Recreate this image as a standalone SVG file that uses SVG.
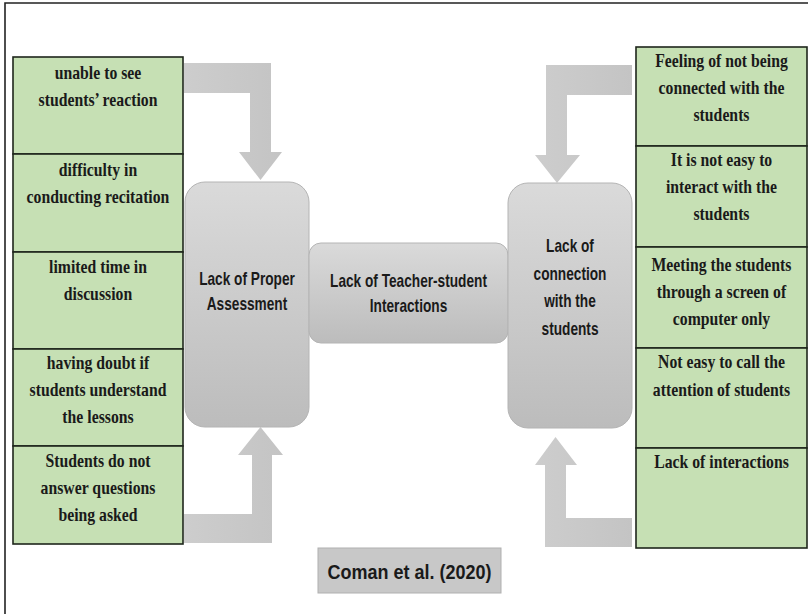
<svg xmlns="http://www.w3.org/2000/svg" width="808" height="614" viewBox="0 0 808 614">
  <defs>
    <linearGradient id="boxGrad" x1="0" y1="0" x2="0" y2="1">
      <stop offset="0" stop-color="#dadada"/>
      <stop offset="1" stop-color="#bcbcbc"/>
    </linearGradient>
    <linearGradient id="arrowGrad" x1="0" y1="0" x2="1" y2="0">
      <stop offset="0" stop-color="#cdcdcd"/>
      <stop offset="1" stop-color="#c4c4c4"/>
    </linearGradient>
  </defs>
  <style>
    .cell { fill: #c6e0b4; stroke: #1e261c; stroke-width: 1.6; }
    .ctxt { font-family: "Liberation Serif", "Times New Roman", serif; font-weight: bold; font-size: 19px; fill: #1a1a1a; text-anchor: middle; }
    .box { fill: url(#boxGrad); stroke: #b4b4b4; stroke-width: 1; }
    .btxt { font-family: "Liberation Sans", Arial, sans-serif; font-weight: bold; font-size: 18px; fill: #1a1a1a; text-anchor: middle; }
    .arrow { fill: url(#arrowGrad); stroke: none; }
    .frame { stroke: #222; stroke-width: 1.6; fill: none; }
  </style>

  <rect width="808" height="614" fill="#ffffff"/>
  <path class="frame" d="M5 614 V3 H808"/>

  <!-- connectors: bent block arrows into the side boxes -->
  <g id="connectors">
    <polygon class="arrow" points="184,63 271,63 271,152 282,152 260.5,180 239,152 250,152 250,93 184,93"/>
    <polygon class="arrow" points="184,543 272,543 272,455 283,455 260.5,427 238,455 252,455 252,514 184,514"/>
    <polygon class="arrow" points="632,65 546,65 546,155 535,155 557,183 580,155 567,155 567,95 632,95"/>
    <polygon class="arrow" points="632,547 545,547 545,465 535,465 555.5,437 577,465 566,465 566,518 632,518"/>
  </g>

  <!-- left column of issues -->
  <g id="left-1">
    <rect class="cell" x="13" y="57" width="170" height="97"/>
    <g transform="translate(98 0) scale(0.83 1)">
      <text class="ctxt" x="0" y="79">unable to see</text>
      <text class="ctxt" x="0" y="106">students’ reaction</text>
    </g>
  </g>
  <g id="left-2">
    <rect class="cell" x="13" y="154" width="170" height="98"/>
    <g transform="translate(98 0) scale(0.83 1)">
      <text class="ctxt" x="0" y="176">difficulty in</text>
      <text class="ctxt" x="0" y="203">conducting recitation</text>
    </g>
  </g>
  <g id="left-3">
    <rect class="cell" x="13" y="252" width="170" height="97"/>
    <g transform="translate(98 0) scale(0.83 1)">
      <text class="ctxt" x="0" y="273">limited time in</text>
      <text class="ctxt" x="0" y="300">discussion</text>
    </g>
  </g>
  <g id="left-4">
    <rect class="cell" x="13" y="349" width="170" height="97"/>
    <g transform="translate(98 0) scale(0.83 1)">
      <text class="ctxt" x="0" y="369">having doubt if</text>
      <text class="ctxt" x="0" y="396">students understand</text>
      <text class="ctxt" x="0" y="423">the lessons</text>
    </g>
  </g>
  <g id="left-5">
    <rect class="cell" x="13" y="446" width="170" height="98"/>
    <g transform="translate(98 0) scale(0.83 1)">
      <text class="ctxt" x="0" y="467">Students do not</text>
      <text class="ctxt" x="0" y="494">answer questions</text>
      <text class="ctxt" x="0" y="521">being asked</text>
    </g>
  </g>

  <!-- right column of issues -->
  <g id="right-1">
    <rect class="cell" x="636" y="47" width="171" height="99"/>
    <g transform="translate(721.5 0) scale(0.83 1)">
      <text class="ctxt" x="0" y="67">Feeling of not being</text>
      <text class="ctxt" x="0" y="94">connected with the</text>
      <text class="ctxt" x="0" y="121">students</text>
    </g>
  </g>
  <g id="right-2">
    <rect class="cell" x="636" y="146" width="171" height="101"/>
    <g transform="translate(721.5 0) scale(0.83 1)">
      <text class="ctxt" x="0" y="166">It is not easy to</text>
      <text class="ctxt" x="0" y="193">interact with the</text>
      <text class="ctxt" x="0" y="220">students</text>
    </g>
  </g>
  <g id="right-3">
    <rect class="cell" x="636" y="247" width="171" height="101"/>
    <g transform="translate(721.5 0) scale(0.83 1)">
      <text class="ctxt" x="0" y="271">Meeting the students</text>
      <text class="ctxt" x="0" y="298">through a screen of</text>
      <text class="ctxt" x="0" y="325">computer only</text>
    </g>
  </g>
  <g id="right-4">
    <rect class="cell" x="636" y="348" width="171" height="100"/>
    <g transform="translate(721.5 0) scale(0.83 1)">
      <text class="ctxt" x="0" y="368">Not easy to call the</text>
      <text class="ctxt" x="0" y="396">attention of students</text>
    </g>
  </g>
  <g id="right-5">
    <rect class="cell" x="636" y="448" width="171" height="100"/>
    <g transform="translate(721.5 0) scale(0.83 1)">
      <text class="ctxt" x="0" y="468">Lack of interactions</text>
    </g>
  </g>

  <!-- central themes -->
  <g id="proper-assessment">
    <rect class="box" x="185" y="182" width="124" height="245" rx="20"/>
    <g transform="translate(247 0) scale(0.76 1)">
      <text class="btxt" x="0" y="285">Lack of Proper</text>
      <text class="btxt" x="0" y="310">Assessment</text>
    </g>
  </g>
  <g id="teacher-student">
    <rect class="box" x="309" y="243" width="199" height="100" rx="12"/>
    <g transform="translate(408.5 0) scale(0.76 1)">
      <text class="btxt" x="0" y="287">Lack of Teacher-student</text>
      <text class="btxt" x="0" y="312">Interactions</text>
    </g>
  </g>
  <g id="connection">
    <rect class="box" x="508" y="183" width="124" height="245" rx="20"/>
    <g transform="translate(570 0) scale(0.76 1)">
      <text class="btxt" x="0" y="252">Lack of</text>
      <text class="btxt" x="0" y="280">connection</text>
      <text class="btxt" x="0" y="307">with the</text>
      <text class="btxt" x="0" y="335">students</text>
    </g>
  </g>

  <!-- source label -->
  <g id="citation">
    <rect x="318" y="548" width="183" height="45" fill="#c8c8c8" stroke="#b0b0b0" stroke-width="1"/>
    <g transform="translate(409.5 0) scale(0.9 1)">
      <text x="0" y="579" font-family="Liberation Sans, Arial, sans-serif" font-weight="bold" font-size="20" fill="#1a1a1a" text-anchor="middle">Coman et al. (2020)</text>
    </g>
  </g>
</svg>
